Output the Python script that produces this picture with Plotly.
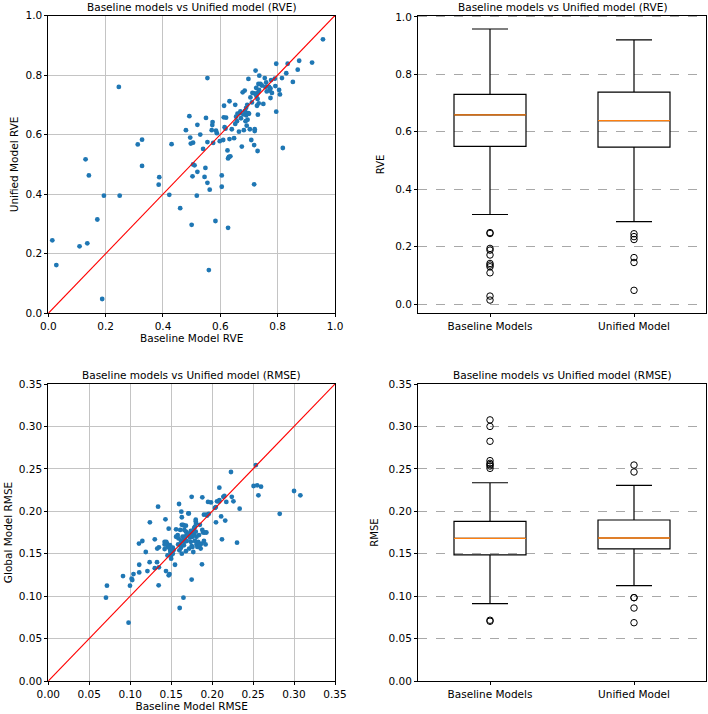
import numpy as np
import plotly.graph_objects as go

# RVE per station: baseline model (x) vs unified model (y)
baseline_rve = [0.014, 0.028, 0.109, 0.130, 0.136, 0.1415, 0.171, 0.188, 0.194, 0.246, 0.249,
                0.312, 0.327, 0.327, 0.385, 0.387, 0.422, 0.430, 0.460, 0.500, 0.583, 0.627, 0.560, 0.555,
                0.480, 0.492, 0.495, 0.497, 0.505, 0.505, 0.510, 0.503, 0.520, 0.518, 0.520, 0.530, 0.540,
                0.545, 0.548, 0.550, 0.555, 0.555, 0.563, 0.570, 0.572, 0.573, 0.575, 0.585, 0.588, 0.598,
                0.605, 0.605, 0.610, 0.612, 0.613, 0.615, 0.618, 0.620, 0.625, 0.627, 0.630, 0.632, 0.632,
                0.635, 0.640, 0.648, 0.652, 0.655, 0.658, 0.660, 0.665, 0.668, 0.670, 0.672, 0.675, 0.678,
                0.682, 0.685, 0.686, 0.688, 0.690, 0.690, 0.692, 0.695, 0.697, 0.698, 0.700, 0.703, 0.708,
                0.710, 0.712, 0.734, 0.731, 0.718, 0.718, 0.720, 0.720, 0.720, 0.723, 0.725, 0.728, 0.730,
                0.730, 0.732, 0.733, 0.735, 0.736, 0.740, 0.750, 0.755, 0.757, 0.760, 0.772, 0.775, 0.775,
                0.777, 0.780, 0.790, 0.792, 0.795, 0.795, 0.805, 0.808, 0.815, 0.818, 0.830, 0.835, 0.853,
                0.870, 0.875, 0.920, 0.958,
                0.652, 0.680, 0.694, 0.705, 0.726, 0.745, 0.762, 0.770]
unified_rve = [0.245, 0.162, 0.225, 0.517, 0.235, 0.463, 0.315, 0.048, 0.395, 0.760, 0.395,
               0.567, 0.583, 0.495, 0.432, 0.457, 0.398, 0.568, 0.353, 0.297, 0.310, 0.287, 0.145, 0.790,
               0.615, 0.662, 0.590, 0.570, 0.573, 0.500, 0.497, 0.460, 0.475, 0.395, 0.633, 0.600, 0.552,
               0.458, 0.488, 0.656, 0.575, 0.438, 0.415, 0.615, 0.632, 0.642, 0.572, 0.613, 0.605, 0.578,
               0.463, 0.425, 0.582, 0.658, 0.697, 0.625, 0.620, 0.657, 0.547, 0.520, 0.525, 0.585, 0.712,
               0.527, 0.618, 0.588, 0.700, 0.660, 0.645, 0.670, 0.610, 0.672, 0.678, 0.655, 0.560, 0.742,
               0.615, 0.748, 0.680, 0.645, 0.690, 0.665, 0.630, 0.650, 0.672, 0.787, 0.670, 0.618, 0.582,
               0.708, 0.740, 0.705, 0.667, 0.565, 0.433, 0.612, 0.618, 0.738, 0.815, 0.757, 0.697, 0.545,
               0.720, 0.742, 0.770, 0.750, 0.798, 0.770, 0.703, 0.790, 0.760, 0.775, 0.748, 0.723, 0.755,
               0.783, 0.740, 0.788, 0.763, 0.838, 0.677, 0.750, 0.735, 0.790, 0.555, 0.806, 0.838, 0.777,
               0.818, 0.848, 0.842, 0.920,
               0.636, 0.668, 0.700, 0.725, 0.730, 0.765, 0.745, 0.760]

# RMSE per station: baseline model (x) vs global/unified model (y)
baseline_rmse = [0.0704, 0.0716, 0.0912, 0.0980, 0.0997, 0.1017, 0.1025, 0.1040, 0.1107, 0.1110,
                 0.1110, 0.1148, 0.1190, 0.1210, 0.1237, 0.1240, 0.1300, 0.1300, 0.1327, 0.1340,
                 0.1330, 0.1350, 0.1347, 0.1350, 0.1420, 0.1420, 0.1420, 0.1430, 0.1437, 0.1470,
                 0.1470, 0.1480, 0.1486, 0.1486, 0.1490, 0.1500, 0.1500, 0.1520, 0.1515, 0.1530,
                 0.1520, 0.1547, 0.1560, 0.1560, 0.1580, 0.1585, 0.1596, 0.1604, 0.1624, 0.1630,
                 0.1650, 0.1630, 0.1645, 0.1660, 0.1680, 0.1710, 0.1715, 0.1750, 0.1750, 0.1800,
                 0.1800, 0.1805, 0.1880, 0.1876, 0.1900, 0.1930, 0.1950, 0.1986, 0.2035, 0.2045,
                 0.2047, 0.2060, 0.2088, 0.2085, 0.2088, 0.2110, 0.2120, 0.2137, 0.2150, 0.2160,
                 0.2173, 0.2230, 0.2240, 0.2260, 0.2304, 0.2336, 0.2506, 0.2534, 0.2550, 0.2565,
                 0.2597, 0.2825, 0.3000, 0.3077,
                 0.1450, 0.1460, 0.1440, 0.1590, 0.1600, 0.1610, 0.1620, 0.1620, 0.1630, 0.1640,
                 0.1650, 0.1660, 0.1670, 0.1680, 0.1690, 0.1690, 0.1660, 0.1655, 0.1665, 0.1720,
                 0.1720, 0.1730, 0.1740, 0.1740, 0.1750, 0.1750, 0.1760, 0.1760, 0.1770, 0.1780,
                 0.1780, 0.1790, 0.1790, 0.1800, 0.1810, 0.1810, 0.1820, 0.1830, 0.1840, 0.1850,
                 0.1860, 0.1870, 0.1880, 0.1890, 0.1900, 0.1910, 0.1920, 0.1930, 0.1940, 0.1960,
                 0.1680, 0.1610, 0.1455, 0.1430, 0.1770, 0.1850]
global_rmse = [0.0982, 0.1123, 0.1237, 0.0687, 0.1123, 0.1205, 0.1190, 0.1260, 0.1620, 0.1370,
               0.1280, 0.1650, 0.1520, 0.1296, 0.1400, 0.1870, 0.1670, 0.1330, 0.1400, 0.2054,
               0.1560, 0.1575, 0.1127, 0.1340, 0.1640, 0.1610, 0.1555, 0.1905, 0.1296, 0.1795,
               0.1245, 0.1260, 0.1600, 0.1550, 0.1520, 0.1480, 0.1442, 0.1570, 0.1550, 0.1545,
               0.1500, 0.1370, 0.1787, 0.1700, 0.1720, 0.1610, 0.2086, 0.0860, 0.1995, 0.1930,
               0.0982, 0.1840, 0.1840, 0.1830, 0.1830, 0.1975, 0.1975, 0.2170, 0.1195, 0.1900,
               0.1880, 0.1855, 0.2165, 0.1375, 0.1960, 0.1960, 0.2110, 0.2105, 0.2040, 0.2050,
               0.1870, 0.2117, 0.2130, 0.2115, 0.2278, 0.1940, 0.1670, 0.2170, 0.2180, 0.1890,
               0.2110, 0.2463, 0.2170, 0.2117, 0.1630, 0.2031, 0.2298, 0.2545, 0.2306, 0.2188,
               0.2290, 0.1970, 0.2239, 0.2188,
               0.1620, 0.1580, 0.1640, 0.1680, 0.1540, 0.1600, 0.1650, 0.1570, 0.1500, 0.1700,
               0.1660, 0.1640, 0.1690, 0.1760, 0.1720, 0.1650, 0.1780, 0.1600, 0.1700, 0.1740,
               0.1560, 0.1690, 0.1640, 0.1770, 0.1720, 0.1590, 0.1580, 0.1700, 0.1740, 0.1800,
               0.1720, 0.1650, 0.1820, 0.1760, 0.1700, 0.1610, 0.1580, 0.1640, 0.1720, 0.1840,
               0.1560, 0.1620, 0.1780, 0.1750, 0.1650, 0.1750, 0.1610, 0.1750, 0.1950, 0.1970,
               0.1530, 0.1780, 0.1480, 0.1610, 0.1520, 0.1600]

box_labels = ["Baseline Models", "Unified Model"]
rve_lim = [0.0, 1.0]
rmse_lim = [0.0, 0.35]

FONT = "DejaVu Sans"
BLUE = "#1f77b4"


def box_stats(values):
    v = np.asarray(values)
    q1, med, q3 = np.percentile(v, [25, 50, 75])
    iqr = q3 - q1
    lo = v[v >= q1 - 1.5 * iqr].min()
    hi = v[v <= q3 + 1.5 * iqr].max()
    out = v[(v < lo) | (v > hi)]
    return q1, med, q3, lo, hi, out


def add_boxes(fig, series, xa, ya):
    for pos, vals in enumerate(series, start=1):
        q1, med, q3, lo, hi, out = box_stats(vals)
        fig.add_trace(go.Box(x=[pos], q1=[q1], median=[med], q3=[q3],
                             lowerfence=[lo], upperfence=[hi], width=0.5,
                             whiskerwidth=0.5, fillcolor="rgba(0,0,0,0)",
                             line=dict(color="black", width=1.2),
                             boxpoints=False, showlegend=False, hoverinfo="skip",
                             xaxis=xa, yaxis=ya))
        fig.add_trace(go.Scatter(x=[pos - 0.25, pos + 0.25], y=[med, med], mode="lines",
                                 line=dict(color="#ff7f0e", width=1.3),
                                 showlegend=False, xaxis=xa, yaxis=ya))
        fig.add_trace(go.Scatter(x=[pos] * len(out), y=out, mode="markers",
                                 marker=dict(symbol="circle-open", size=6.5, color="black",
                                             line=dict(width=1)),
                                 showlegend=False, xaxis=xa, yaxis=ya))


fig = go.Figure()

# scatter panels
for xs, ys, lim, xa, ya in [(baseline_rve, unified_rve, rve_lim, "x", "y"),
                            (baseline_rmse, global_rmse, rmse_lim, "x3", "y3")]:
    fig.add_trace(go.Scatter(x=xs, y=ys, mode="markers",
                             marker=dict(color=BLUE, size=4.8),
                             showlegend=False, xaxis=xa, yaxis=ya))
    fig.add_trace(go.Scatter(x=lim, y=lim, mode="lines",
                             line=dict(color="red", width=1.1),
                             showlegend=False, xaxis=xa, yaxis=ya))

# box panels
add_boxes(fig, [baseline_rve, unified_rve], "x2", "y2")
add_boxes(fig, [baseline_rmse, global_rmse], "x4", "y4")

W, H = 708, 714
left_dom = [48.3 / W, 335 / W]
right_dom = [418 / W, 706 / W]
top_dom = [1 - 313.3 / H, 1 - 15.5 / H]
bot_dom = [1 - 681 / H, 1 - 384 / H]

tickfont = dict(family=FONT, size=10.5, color="black")
titlefont = dict(family=FONT, size=10.5, color="black")
frame = dict(showline=True, mirror=True, linecolor="black", linewidth=1,
             ticks="outside", ticklen=3, tickcolor="black", zeroline=False,
             tickfont=tickfont, automargin=False)
sgrid = dict(showgrid=True, gridcolor="#c4c4c4", gridwidth=1)
bgrid = dict(showgrid=True, gridcolor="#a8a8a8", gridwidth=0.8, griddash="dash")

fig.update_layout(
    width=W, height=H, margin=dict(l=0, r=0, t=0, b=0),
    plot_bgcolor="white", paper_bgcolor="white",
    font=dict(family=FONT, color="black"),
    xaxis=dict(domain=left_dom, anchor="y", range=rve_lim, dtick=0.2, tickformat=".1f",
               title=dict(text="Baseline Model RVE", font=titlefont, standoff=2), **frame, **sgrid),
    yaxis=dict(domain=top_dom, anchor="x", range=rve_lim, dtick=0.2, tickformat=".1f",
               title=dict(text="Unified Model RVE", font=titlefont, standoff=4), **frame, **sgrid),
    xaxis2=dict(domain=right_dom, anchor="y2", range=[0.5, 2.5], tickvals=[1, 2],
                ticktext=box_labels, showgrid=False, **frame),
    yaxis2=dict(domain=top_dom, anchor="x2", range=[-0.032, 1.005], dtick=0.2, tickformat=".1f",
                title=dict(text="RVE", font=dict(family=FONT, size=10, color="black"), standoff=8),
                **frame, **bgrid),
    xaxis3=dict(domain=left_dom, anchor="y3", range=rmse_lim, dtick=0.05, tickformat=".2f",
                title=dict(text="Baseline Model RMSE", font=titlefont, standoff=2), **frame, **sgrid),
    yaxis3=dict(domain=bot_dom, anchor="x3", range=rmse_lim, dtick=0.05, tickformat=".2f",
                title=dict(text="Global Model RMSE", font=titlefont, standoff=4), **frame, **sgrid),
    xaxis4=dict(domain=right_dom, anchor="y4", range=[0.5, 2.5], tickvals=[1, 2],
                ticktext=box_labels, showgrid=False, **frame),
    yaxis4=dict(domain=bot_dom, anchor="x4", range=rmse_lim, dtick=0.05, tickformat=".2f",
                title=dict(text="RMSE", font=dict(family=FONT, size=10, color="black"), standoff=8),
                **frame, **bgrid),
)

titles = ["Baseline models vs Unified model (RVE)", "Baseline models vs Unified model (RVE)",
          "Baseline models vs Unified model (RMSE)", "Baseline models vs Unified model (RMSE)"]
for text, xd, yd in zip(titles, [left_dom, right_dom, left_dom, right_dom],
                        [top_dom, top_dom, bot_dom, bot_dom]):
    fig.add_annotation(text=text, x=(xd[0] + xd[1]) / 2, y=yd[1], xref="paper", yref="paper",
                       xanchor="center", yanchor="bottom", yshift=1, showarrow=False,
                       font=dict(family=FONT, size=10.5, color="black"))

# drop the browser's default page margin so the figure sits at the window origin
fig.write_html("out.html", config={"displayModeBar": False},
               post_script="document.body.style.margin='0px';")
